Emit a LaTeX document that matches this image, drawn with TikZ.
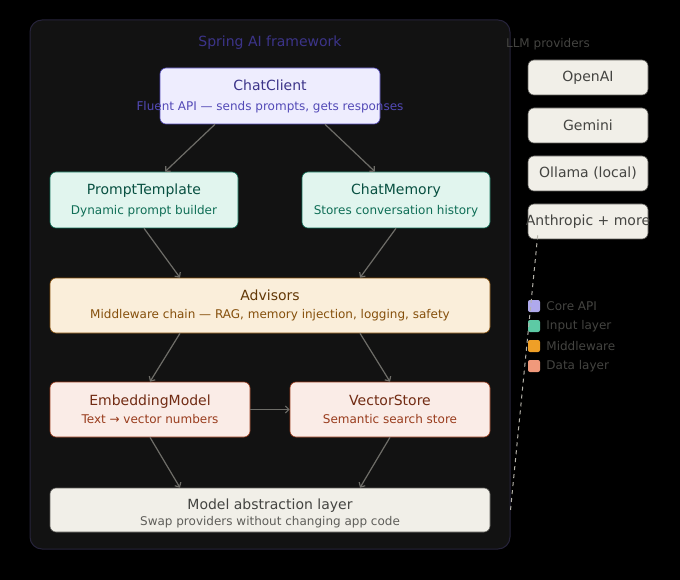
\documentclass[tikz,border=0pt]{standalone}
\usepackage{fontspec}
\setmainfont{DejaVu Sans}
\usetikzlibrary{arrows.meta, positioning}

\definecolor{bgframe}{HTML}{121212}
\definecolor{frameline}{HTML}{26233A}
\definecolor{arrowgray}{HTML}{6E6D68}
\definecolor{dashgray}{HTML}{B4B2A9}
\definecolor{legtext}{HTML}{444441}
\definecolor{purplefill}{HTML}{EEEDFE}
\definecolor{purpleline}{HTML}{534AB7}
\definecolor{purpletext}{HTML}{3C3489}
\definecolor{tealfill}{HTML}{E1F5EE}
\definecolor{tealline}{HTML}{0F6E56}
\definecolor{tealtext}{HTML}{085041}
\definecolor{amberfill}{HTML}{FAEEDA}
\definecolor{amberline}{HTML}{854F0B}
\definecolor{ambertext}{HTML}{633806}
\definecolor{coralfill}{HTML}{FAECE7}
\definecolor{coralline}{HTML}{993C1D}
\definecolor{coraltext}{HTML}{712B13}
\definecolor{grayfill}{HTML}{F1EFE8}
\definecolor{grayline}{HTML}{5F5E5A}
\definecolor{graytext}{HTML}{444441}
\definecolor{legpurple}{HTML}{AFA9EC}
\definecolor{legteal}{HTML}{5DCAA5}
\definecolor{legamber}{HTML}{EF9F27}
\definecolor{legcoral}{HTML}{F0997B}
\colorlet{subcol}{black}

\newcommand{\twoline}[3][4pt]{{#2}\\[#1]\makebox[0pt]{\fontsize{12}{14}\selectfont\color{subcol}#3}}

\begin{document}
\begin{tikzpicture}[
    x=1pt, y=-1pt,
    box/.style={rectangle, rounded corners=6pt, line width=0.6pt, align=center,
      font=\fontsize{14}{16}\selectfont, inner sep=0pt},
    core/.style={box, fill=purplefill, draw=purpleline, text=purpletext,
      execute at begin node={\colorlet{subcol}{purpleline}}},
    input/.style={box, fill=tealfill, draw=tealline, text=tealtext,
      execute at begin node={\colorlet{subcol}{tealline}}},
    middle/.style={box, fill=amberfill, draw=amberline, text=ambertext,
      execute at begin node={\colorlet{subcol}{amberline}}},
    data/.style={box, fill=coralfill, draw=coralline, text=coraltext,
      execute at begin node={\colorlet{subcol}{coralline}}},
    base/.style={box, fill=grayfill, draw=grayline, text=graytext,
      execute at begin node={\colorlet{subcol}{grayline}}},
    provider/.style={base, minimum width=120pt, minimum height=35pt},
    legsq/.style={rectangle, rounded corners=2pt, minimum size=12pt, inner sep=0pt},
    legtxt/.style={text=legtext, font=\fontsize{12}{14}\selectfont, inner sep=0pt},
    flow/.style={draw=arrowgray, line width=1.2pt, -{Straight Barb[length=3.5pt,width=7pt]}}
  ]
  \useasboundingbox (0,0) rectangle (680,580);
  \fill[black] (0,0) rectangle (680,580);

  % Framework frame
  \node[rectangle, rounded corners=12pt, fill=bgframe, draw=frameline, line width=1pt,
    minimum width=480pt, minimum height=529pt] (fw) at (270,284.5) {};
  \node[text=purpletext, font=\fontsize{14}{16}\selectfont] (fwtitle) at (270,43) {Spring AI framework};

  % Layers
  \node[core, minimum width=220pt, minimum height=56pt] (client) at (270,96)
    {\twoline{ChatClient}{Fluent API — sends prompts, gets responses}};
  \node[input, minimum width=188pt, minimum height=56pt] (prompt) at (144,200)
    {\twoline{PromptTemplate}{Dynamic prompt builder}};
  \node[input, minimum width=188pt, minimum height=56pt] (memory) at (396,200)
    {\twoline{ChatMemory}{Stores conversation history}};
  \node[middle, minimum width=440pt, minimum height=55pt] (advisors) at (270,305.5)
    {\twoline[2pt]{Advisors}{Middleware chain — RAG, memory injection, logging, safety}};
  \node[data, minimum width=200pt, minimum height=55pt] (embed) at (150,409.5)
    {\twoline[2pt]{EmbeddingModel}{Text → vector numbers}};
  \node[data, minimum width=200pt, minimum height=55pt] (vector) at (390,409.5)
    {\twoline[2pt]{VectorStore}{Semantic search store}};
  \node[base, minimum width=440pt, minimum height=44pt] (model) at (270,510)
    {\twoline[0pt]{\rule{0pt}{17pt}Model abstraction layer}{Swap providers without changing app code}};

  % Providers
  \node[legtxt] (provtitle) at (548,44) {LLM providers};
  \node[provider] (openai) at (588,77.5) {OpenAI};
  \node[provider] (gemini) at (588,125.5) {Gemini};
  \node[provider] (ollama) at (588,173.5) {Ollama (local)};
  \node[provider, inner xsep=-6pt] (anth) at (588,221.5) {Anthropic + more};

  % Legend
  \node[legsq, fill=legpurple] (lg1) at (534,306) {};
  \node[legtxt, right=6pt of lg1] (lt1) {Core API};
  \node[legsq, fill=legteal] (lg2) at (534,326) {};
  \node[legtxt, right=6pt of lg2] (lt2) {Input layer};
  \node[legsq, fill=legamber] (lg3) at (534,346) {};
  \node[legtxt, right=6pt of lg3] (lt3) {Middleware};
  \node[legsq, fill=legcoral] (lg4) at (534,366) {};
  \node[legtxt, right=6pt of lg4] (lt4) {Data layer};

  % Edges
  \draw[flow] ([xshift=-55pt]client.south) -- ([xshift=21pt]prompt.north);
  \draw[flow] ([xshift=55pt]client.south) -- ([xshift=-21pt]memory.north);
  \draw[flow] (prompt.south) -- ([xshift=-90pt]advisors.north);
  \draw[flow] (memory.south) -- ([xshift=90pt]advisors.north);
  \draw[flow] ([xshift=-90pt]advisors.south) -- (embed.north);
  \draw[flow] ([xshift=90pt]advisors.south) -- (vector.north);
  \draw[flow] (embed.east) -- (vector.west);
  \draw[flow] (embed.south) -- ([xshift=-90pt]model.north);
  \draw[flow] (vector.south) -- ([xshift=90pt]model.north);

  % Link to providers
  \coordinate (fwlink) at (fw.east |- model.center);
  \draw[dashgray, line width=1pt, dash pattern=on 4pt off 4pt]
    ([xshift=10pt,yshift=4pt]anth.south west) -- (fwlink);
\end{tikzpicture}
\end{document}
